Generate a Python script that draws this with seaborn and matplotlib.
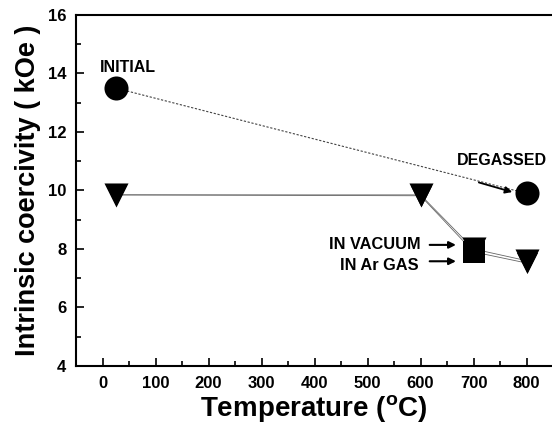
import matplotlib
matplotlib.use("Agg")
import matplotlib.pyplot as plt
import seaborn as sns
import pandas as pd
from matplotlib.ticker import MultipleLocator

# Data
temp_degas = [25, 800]
hc_degas = [13.5, 9.9]

temp_vac = [25, 600, 700, 800]
hc_vac = [9.85, 9.85, 8.0, 7.6]

temp_ar = [25, 600, 700, 800]
hc_ar = [9.85, 9.82, 7.9, 7.52]

sns.set_theme(style="white")
plt.rcParams['font.family'] = ['Liberation Sans', 'DejaVu Sans']
plt.rcParams['font.weight'] = 'bold'
for k in ['text.color', 'axes.labelcolor', 'xtick.color', 'ytick.color']:
    plt.rcParams[k] = 'black'

fig = plt.figure(figsize=(5.52, 4.28), dpi=100)
ax = fig.add_axes([0.1377, 0.1449, 0.8623, 0.8201])

df_deg = pd.DataFrame({"T": temp_degas, "H": hc_degas})
df_vac = pd.DataFrame({"T": temp_vac, "H": hc_vac})
df_ar = pd.DataFrame({"T": temp_ar, "H": hc_ar})

# connecting lines
sns.lineplot(data=df_deg, x="T", y="H", ax=ax, color="#444444", lw=0.8,
             linestyle=(0, (2, 1.5)), sort=False)
sns.lineplot(data=df_vac, x="T", y="H", ax=ax, color="#666666", lw=0.6, sort=False)
sns.lineplot(data=df_ar, x="T", y="H", ax=ax, color="#666666", lw=0.6, sort=False)

# markers
sns.scatterplot(data=df_deg, x="T", y="H", ax=ax, marker="o", s=300, color="black",
                edgecolor="black", linewidth=0, zorder=5)
sns.scatterplot(data=df_ar.iloc[[2]], x="T", y="H", ax=ax, marker="s", s=230, color="black",
                edgecolor="black", linewidth=0, zorder=5)
sns.scatterplot(data=df_vac, x="T", y="H", ax=ax, marker="v", s=300, color="black",
                edgecolor="black", linewidth=0, zorder=6)
sns.scatterplot(data=df_ar.drop(index=2), x="T", y="H", ax=ax, marker="v", s=230, color="black",
                edgecolor="black", linewidth=0, zorder=6)

ax.set_xlim(-50, 848)
ax.set_ylim(4, 16)
ax.xaxis.set_major_locator(MultipleLocator(100))
ax.xaxis.set_minor_locator(MultipleLocator(50))
ax.yaxis.set_major_locator(MultipleLocator(2))
ax.yaxis.set_minor_locator(MultipleLocator(1))
ax.tick_params(which="both", direction="in", bottom=True, left=True, top=False, right=False,
               width=1.2, color="black", labelcolor="black")
ax.tick_params(which="major", length=6, labelsize=12, pad=7)
ax.tick_params(which="minor", length=3.5)
for lab in ax.get_xticklabels() + ax.get_yticklabels():
    lab.set_fontweight("bold")
for s in ["left", "bottom", "top"]:
    ax.spines[s].set_color("black")
    ax.spines[s].set_linewidth(1.5)
ax.spines["right"].set_visible(False)

ax.set_xlabel("Temperature ($\\mathregular{^{o}}$C)", fontsize=20, fontweight="bold",
              labelpad=2, color="black")
ax.set_ylabel("Intrinsic coercivity ( kOe )", fontsize=19.5, fontweight="bold",
              labelpad=5, color="black")

# annotations
ax.text(48, 14.22, "INITIAL", ha="center", va="center", fontsize=11.5, fontweight="bold")
ax.text(839, 11.04, "DEGASSED", ha="right", va="center", fontsize=11.5, fontweight="bold")
ax.annotate("", xy=(778, 9.92), xytext=(705, 10.3),
            arrowprops=dict(arrowstyle="-|>", color="black", lw=1.3, mutation_scale=10))
ax.text(600, 8.16, "IN VACUUM", ha="right", va="center", fontsize=11.8, fontweight="bold")
ax.text(597, 7.45, "IN Ar GAS", ha="right", va="center", fontsize=11.8, fontweight="bold")
ax.annotate("", xy=(672, 8.14), xytext=(612, 8.14),
            arrowprops=dict(arrowstyle="-|>", color="black", lw=1.5, mutation_scale=10))
ax.annotate("", xy=(672, 7.58), xytext=(612, 7.58),
            arrowprops=dict(arrowstyle="-|>", color="black", lw=1.5, mutation_scale=10))

fig.savefig("out.png", dpi=100)
